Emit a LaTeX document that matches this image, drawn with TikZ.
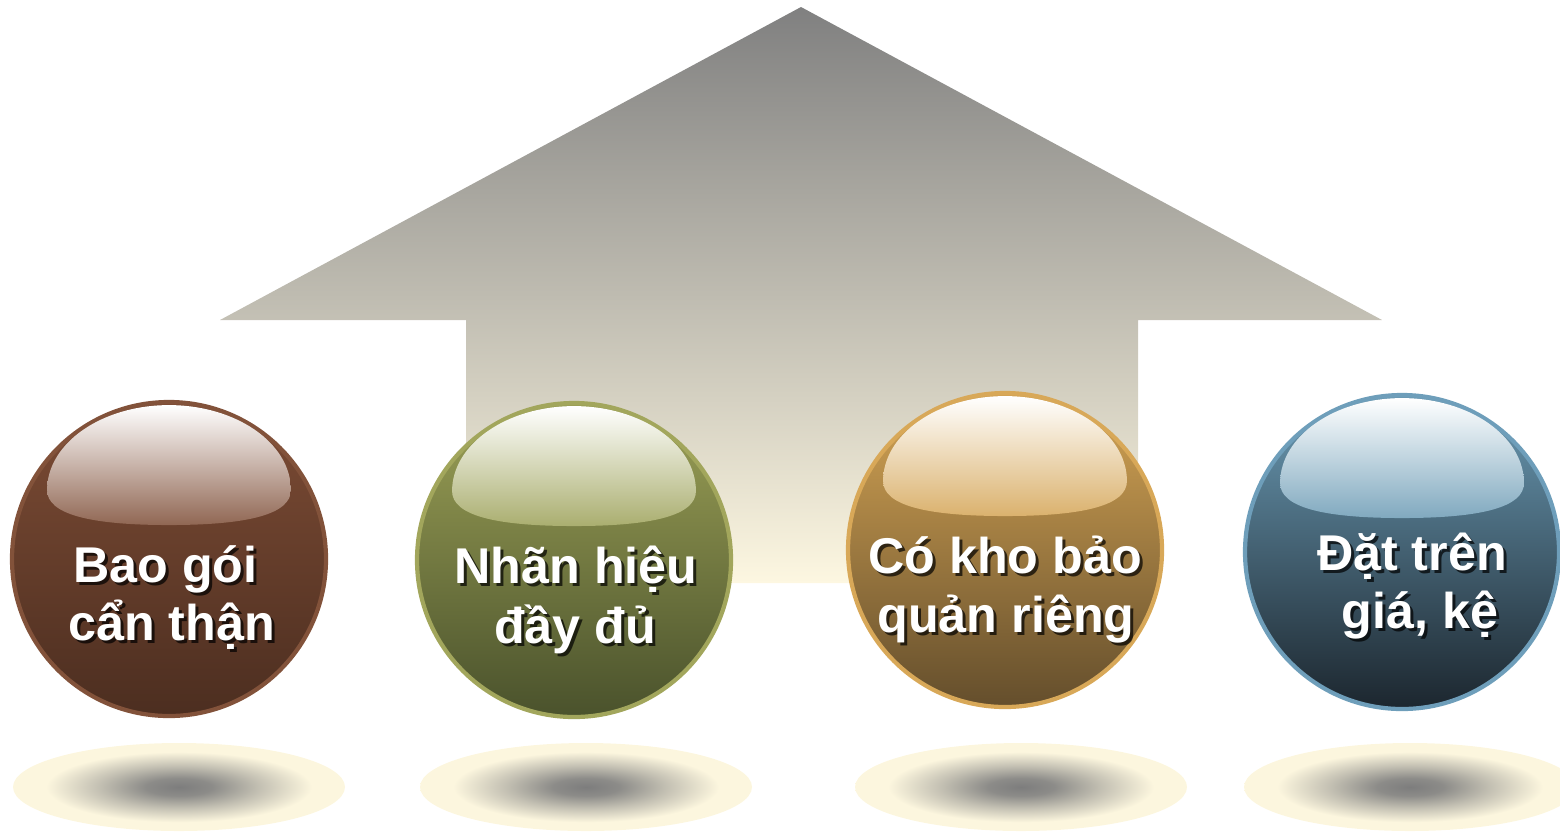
\documentclass[tikz,border=0pt]{standalone}
\usepackage{fontspec}
\setmainfont{Liberation Sans}
\usetikzlibrary{shapes,positioning,calc}
\definecolor{housegray}{RGB}{128,128,128}
\definecolor{housecream}{RGB}{253,247,225}
\definecolor{shadowgray}{RGB}{125,125,125}
\definecolor{floorcream}{RGB}{252,246,222}
\colorlet{shadowdark}{shadowgray!88!floorcream}
\colorlet{shadowmid}{shadowgray!45!floorcream}
\definecolor{browntop}{RGB}{125,76,53}
\definecolor{brownbot}{RGB}{76,46,32}
\definecolor{brownrim}{RGB}{130,82,58}
\definecolor{olivetop}{RGB}{155,160,86}
\definecolor{olivebot}{RGB}{74,82,44}
\definecolor{oliverim}{RGB}{162,166,92}
\definecolor{goldtop}{RGB}{212,164,84}
\definecolor{goldbot}{RGB}{100,78,44}
\definecolor{goldrim}{RGB}{216,168,88}
\definecolor{bluetop}{RGB}{106,154,180}
\definecolor{bluebot}{RGB}{28,38,46}
\definecolor{bluerim}{RGB}{110,158,186}
\pgfdeclareradialshading{floorshadow}{\pgfpoint{0bp}{0bp}}{color(0bp)=(shadowgray); color(5bp)=(shadowdark); color(12bp)=(shadowmid); color(20bp)=(floorcream); color(25bp)=(floorcream); color(50bp)=(floorcream)}
\newcommand{\gloss}[2]{%
  \shade[top color=white, middle color=#2!35!white, bottom color=#2!85!white,
         shift={(#1.center)}, x=0.01cm, y=0.01cm]
    (-122,69) .. controls (-122,116) and (-67,154) .. (0,154)
    .. controls (67,154) and (122,116) .. (122,69)
    .. controls (122,45) and (80,34) .. (0,34)
    .. controls (-80,34) and (-122,45) .. (-122,69) -- cycle;}
\newcommand{\ballcap}[4]{%
  \node[ballshade] (#1s) at ($(#2,#3)+(0.03,-0.03)$) {#4};
  \node[balltext] (#1) at (#2,#3) {#4};}

\begin{document}
\begin{tikzpicture}[
    ball/.style={circle, minimum size=3.14cm, inner sep=0pt, line width=1.2pt},
    floorglow/.style={ellipse, minimum width=3.32cm, minimum height=0.88cm, inner sep=0pt, shade, shading=floorshadow},
    balltext/.style={font=\bfseries\fontsize{14.3}{17}\selectfont, text=white, anchor=base, inner sep=0pt},
    ballshade/.style={balltext, text=black, opacity=0.7}
]
    \useasboundingbox (0,0) rectangle (15.6,-8.31);
    \shade[top color=housegray, bottom color=housecream] (8.01,-0.07) -- (13.82,-3.2) -- (11.38,-3.2)
        -- (11.38,-5.83) -- (4.66,-5.83) -- (4.66,-3.2) -- (2.2,-3.2) -- cycle;

    \node[floorglow] (floorbao) at (1.79,-7.87) {};
    \node[floorglow] (floornhan) at (5.86,-7.87) {};
    \node[floorglow] (floorkho) at (10.21,-7.87) {};
    \node[floorglow] (floorgia) at (14.10,-7.87) {};

    \node[ball, top color=browntop, bottom color=brownbot, draw=brownrim] (bao) at (1.69,-5.59) {};
    \node[ball, top color=olivetop, bottom color=olivebot, draw=oliverim] (nhan) at (5.74,-5.60) {};
    \node[ball, top color=goldtop, bottom color=goldbot, draw=goldrim] (kho) at (10.05,-5.50) {};
    \node[ball, top color=bluetop, bottom color=bluebot, draw=bluerim] (gia) at (14.02,-5.52) {};
    \gloss{bao}{browntop}
    \gloss{nhan}{olivetop}
    \gloss{kho}{goldtop}
    \gloss{gia}{bluetop}

    \ballcap{baoa}{1.655}{-5.82}{Bao gói}
    \ballcap{baob}{1.715}{-6.40}{cẩn thận}
    \ballcap{nhana}{5.76}{-5.83}{Nhãn hiệu}
    \ballcap{nhanb}{5.75}{-6.43}{đầy đủ}
    \ballcap{khoa}{10.05}{-5.73}{Có kho bảo}
    \ballcap{khob}{10.06}{-6.32}{quản riêng}
    \ballcap{giaa}{14.12}{-5.70}{Đặt trên}
    \ballcap{giab}{14.20}{-6.28}{giá, kệ}
\end{tikzpicture}
\end{document}
